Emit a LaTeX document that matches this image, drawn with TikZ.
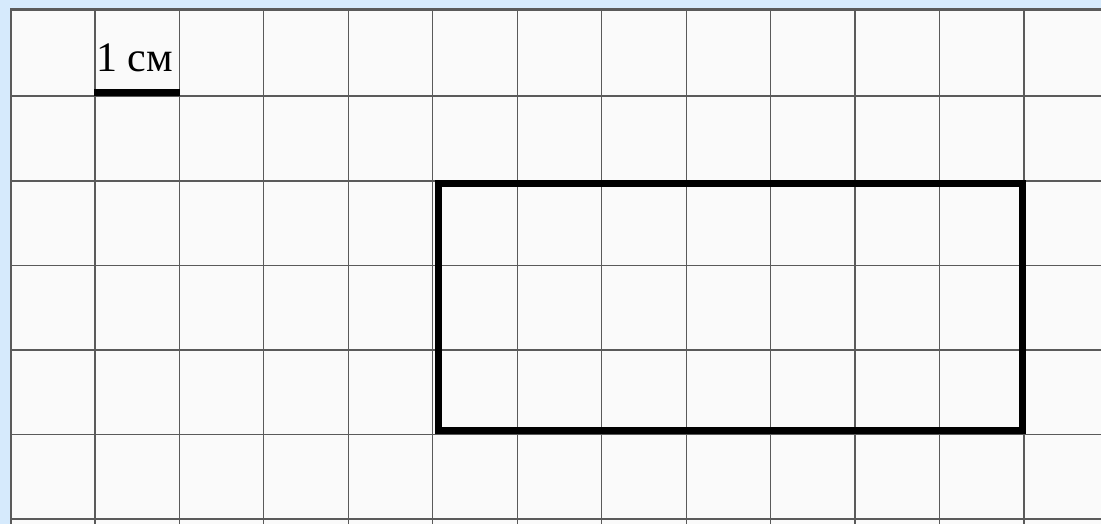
\documentclass[tikz,border=0pt]{standalone}
\usepackage{fontspec}
\setmainfont{Liberation Serif}
\definecolor{bordercol}{RGB}{214,234,252}
\definecolor{papercol}{RGB}{250,250,250}
\definecolor{gridcol}{RGB}{90,90,90}
\begin{document}
\begin{tikzpicture}[x=1pt,y=-1pt,
  gridline/.style={draw=gridcol, line width=1.2pt},
  figurebox/.style={draw=black, line width=7pt},
  scalebar/.style={draw=black, line width=7pt},
  labeltext/.style={anchor=base west, inner sep=0pt, font=\fontsize{42}{42}\selectfont}]
\useasboundingbox (0,0) rectangle (1101,524);
\fill[bordercol] (0,0) rectangle (1101,524);
\fill[papercol] (10,9) rectangle (1101,524);
\foreach \i in {0,...,12}
  \draw[gridline] ({10.5+84.45*\i},9) -- ({10.5+84.45*\i},524);
\foreach \y in {96,181,265.5,350,434.5,519}
  \draw[gridline] (10,\y) -- (1101,\y);
\draw[draw=gridcol, line width=2.5pt] (10,9.5) -- (1101,9.5);
\draw[draw=gridcol, line width=2pt] (10.5,9) -- (10.5,524);
\draw[figurebox] (438,184) rectangle (1022,430.5);
\coordinate (sbA) at (94,93);
\coordinate (sbB) at (180,93);
\draw[scalebar] (sbA) -- (sbB);
\node[labeltext] (lbl) at (96,72) {1 см};
\end{tikzpicture}
\end{document}
